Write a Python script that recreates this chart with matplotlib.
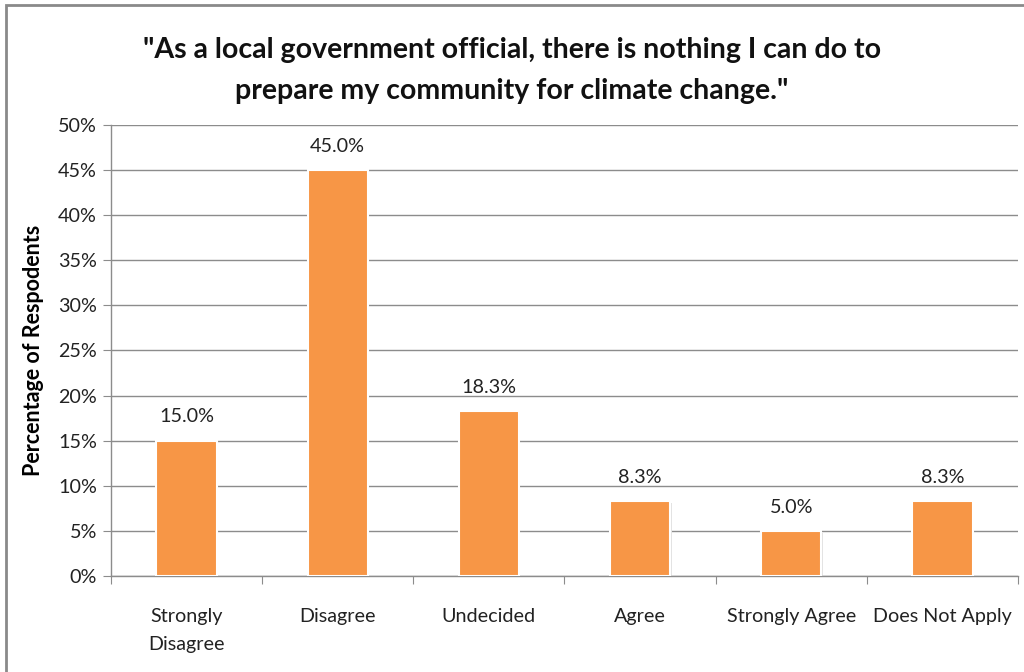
import matplotlib

matplotlib.use("Agg")

import matplotlib.pyplot as plt
import numpy as np
from matplotlib.patches import Rectangle
from matplotlib.ticker import FixedLocator, PercentFormatter

CATEGORIES = ["Strongly\nDisagree", "Disagree", "Undecided", "Agree", "Strongly Agree", "Does Not Apply"]
PERCENTS = [15.0, 45.0, 18.3, 8.3, 5.0, 8.3]
TITLE = '"As a local government official, there is nothing I can do to\nprepare my community for climate change."'

BAR_COLOR = "#f79646"
GRID_COLOR = "#8c8c8c"
TEXT_SIZE = 14.2

plt.rcParams["font.family"] = ["Lato", "DejaVu Sans"]

fig = plt.figure(figsize=(10.24, 6.72), dpi=100)
ax = fig.add_axes([0.1084, 0.1429, 0.8857, 0.6711])

x = np.arange(len(CATEGORIES))
# soft shadow under each bar
ax.bar(x + 0.008, PERCENTS, width=0.4, bottom=-0.2, color="#e2e2e2", zorder=2)
bars = ax.bar(x, PERCENTS, width=0.4, color=BAR_COLOR, edgecolor="white", linewidth=1.5, zorder=3)

for xi, val in zip(x, PERCENTS):
    ax.annotate(f"{val:.1f}%", (xi, val), xytext=(0, 11), textcoords="offset points",
                ha="center", va="bottom", fontsize=TEXT_SIZE, color="#222222")

ax.set_xlim(-0.5, len(CATEGORIES) - 0.5)
ax.set_ylim(0, 50)
ax.set_yticks(np.arange(0, 51, 5))
ax.yaxis.set_major_formatter(PercentFormatter(decimals=0))
ax.yaxis.grid(True, color=GRID_COLOR, linewidth=1.0, zorder=0)
ax.set_axisbelow(True)

ax.xaxis.set_major_locator(FixedLocator(np.arange(-0.5, len(CATEGORIES), 1.0)))
ax.xaxis.set_major_formatter(plt.NullFormatter())
ax.xaxis.set_minor_locator(FixedLocator(x))
ax.set_xticklabels(CATEGORIES, minor=True, linespacing=1.8)
ax.tick_params(axis="x", which="major", length=6, color=GRID_COLOR, direction="out")
ax.tick_params(axis="x", which="minor", length=0, pad=23, labelsize=TEXT_SIZE, labelcolor="#222222")
ax.tick_params(axis="y", length=6, color=GRID_COLOR, labelsize=TEXT_SIZE, labelcolor="#222222", pad=4)

for side in ["top", "right"]:
    ax.spines[side].set_visible(False)
for side in ["left", "bottom"]:
    ax.spines[side].set_color(GRID_COLOR)
    ax.spines[side].set_linewidth(1.0)

ax.set_ylabel("Percentage of Respodents", fontsize=15.5, fontweight="bold", labelpad=10)

fig.text(0.500, 0.895, TITLE, ha="center", va="center", fontsize=20.5, fontweight="bold",
         linespacing=1.7, color="#111111")

fig.patches.append(Rectangle((6 / 1024, -0.05), 1.1, 1 - 5 / 672 + 0.05, transform=fig.transFigure,
                             fill=False, edgecolor="#8a8a8a", linewidth=2.0))

fig.savefig("out.png", dpi=100, facecolor="white")
